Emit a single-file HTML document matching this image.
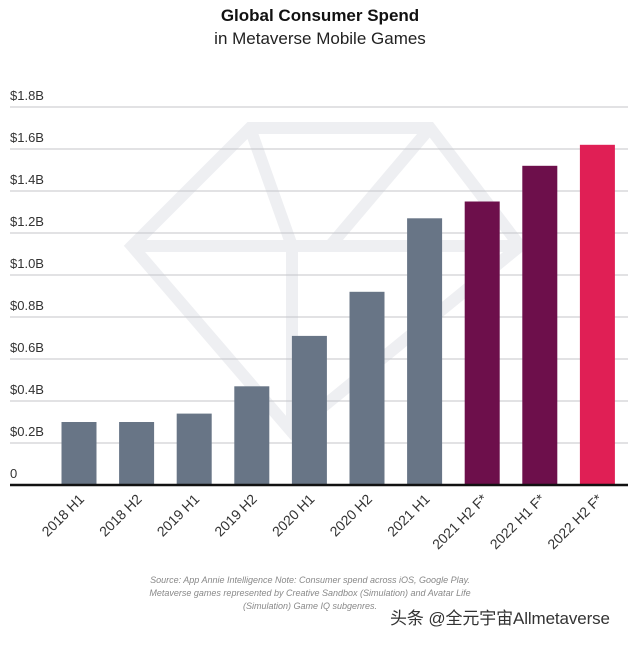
<!DOCTYPE html>
<html><head><meta charset="utf-8"><style>
body{margin:0;background:#fff;}
svg text{font-family:"Liberation Sans","Noto Sans CJK SC",sans-serif;}
</style></head><body>
<svg width="640" height="640" viewBox="0 0 640 640" xmlns="http://www.w3.org/2000/svg">
<rect width="640" height="640" fill="#fff"/>
<g fill="none" stroke="#eeeff2" stroke-width="12" stroke-linejoin="miter">
<polygon points="132,246 250,128 430,128 520,246 292,432"/>
<polyline points="132,246 520,246"/>
<polyline points="250,128 292,246 292,432"/>
<polyline points="430,128 330,246"/>
</g>
<text x="320" y="21" text-anchor="middle" font-size="17" font-weight="bold" fill="#111">Global Consumer Spend</text>
<text x="320" y="44" text-anchor="middle" font-size="17" fill="#222">in Metaverse Mobile Games</text>
<g id="grid"></g>
<g id="bars"></g>
<g id="xlabels"></g>
<line x1="10" y1="485" x2="628" y2="485" stroke="#111" stroke-width="2.5"/>
<g font-size="9" font-style="italic" fill="#888" text-anchor="middle">
<text x="310" y="583">Source: App Annie Intelligence Note: Consumer spend across iOS, Google Play.</text>
<text x="310" y="596">Metaverse games represented by Creative Sandbox (Simulation) and Avatar Life</text>
<text x="310" y="609">(Simulation) Game IQ subgenres.</text>
</g>
<text x="390" y="624" font-size="17" textLength="220" fill="#333">头条 @全元宇宙Allmetaverse</text>
</svg>
<script>
const categories=["2018 H1","2018 H2","2019 H1","2019 H2","2020 H1","2020 H2","2021 H1","2021 H2 F*","2022 H1 F*","2022 H2 F*"];
const values=[0.30,0.30,0.34,0.47,0.71,0.92,1.27,1.35,1.52,1.62];
const colors=["#687586","#687586","#687586","#687586","#687586","#687586","#687586","#6d0f4b","#6d0f4b","#e01f55"];
const tickValues=[0,0.2,0.4,0.6,0.8,1.0,1.2,1.4,1.6,1.8];
const tickLabels=["0","$0.2B","$0.4B","$0.6B","$0.8B","$1.0B","$1.2B","$1.4B","$1.6B","$1.8B"];
const NS="http://www.w3.org/2000/svg";
const y=v=>485-v*210;
const x=i=>79+i*57.6;
const bw=35;
const grid=document.getElementById('grid');
tickValues.forEach((t,i)=>{
  if(t>0){const l=document.createElementNS(NS,'line');
  l.setAttribute('x1',10);l.setAttribute('x2',628);l.setAttribute('y1',y(t));l.setAttribute('y2',y(t));
  l.setAttribute('stroke','#c4c6ca');l.setAttribute('stroke-width','1');
  
  
  grid.appendChild(l);}
  const tx=document.createElementNS(NS,'text');
  tx.setAttribute('x',10);tx.setAttribute('y',y(t)-7);tx.setAttribute('font-size','13');tx.setAttribute('fill','#333');
  tx.textContent=tickLabels[i];
  
  
  grid.appendChild(tx);
});
const bars=document.getElementById('bars'),xl=document.getElementById('xlabels');
categories.forEach((c,i)=>{
  const r=document.createElementNS(NS,'rect');
  r.setAttribute('x',x(i)-bw/2);r.setAttribute('width',bw);r.setAttribute('y',y(values[i]));r.setAttribute('height',485-y(values[i]));
  r.setAttribute('fill',colors[i]);
  
  
  bars.appendChild(r);
  const t=document.createElementNS(NS,'text');
  t.setAttribute('x',0);t.setAttribute('y',0);t.setAttribute('font-size','14');t.setAttribute('fill','#333');t.setAttribute('text-anchor','end');
  t.setAttribute('transform','translate('+(x(i)+6)+',500) rotate(-45)');
  t.textContent=c;
  
  
  xl.appendChild(t);
});
</script>
</body></html>
